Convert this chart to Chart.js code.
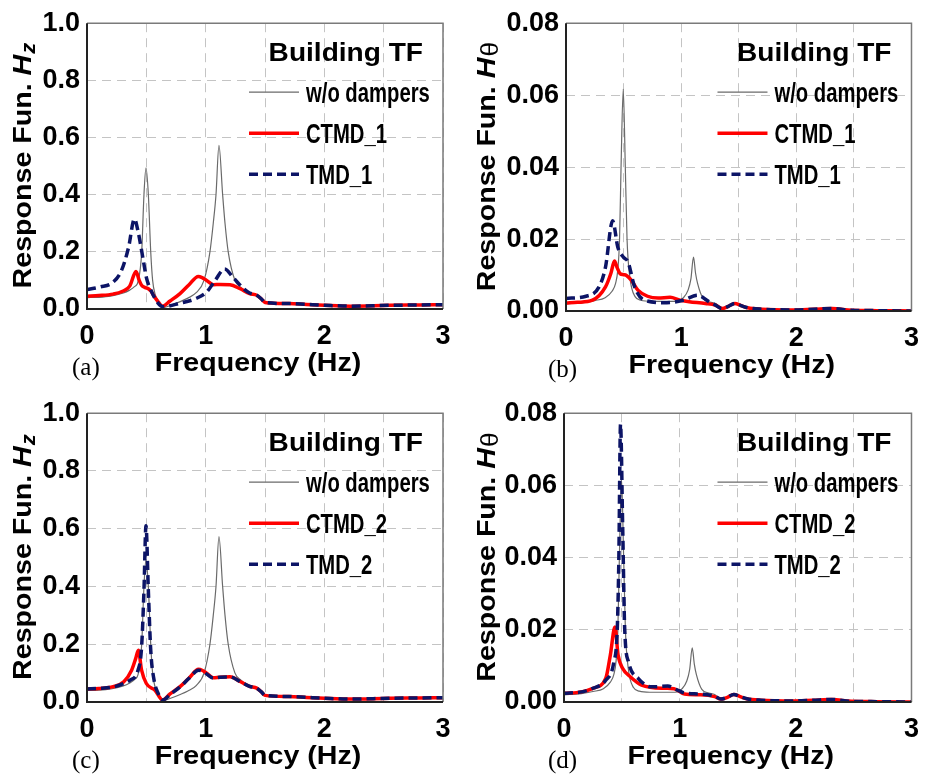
<!DOCTYPE html>
<html><head><meta charset="utf-8">
<script src="https://cdn.jsdelivr.net/npm/chart.js@4.4.1/dist/chart.umd.min.js"></script>
<style>
html,body{margin:0;padding:0;background:#fff;}
body{width:930px;height:778px;position:relative;overflow:hidden;}
.p{position:absolute;}
canvas{display:block;}
</style></head><body>
<div class="p" style="left:0;top:0;"><canvas id="ca" width="465" height="390"></canvas></div>
<div class="p" style="left:465px;top:0;"><canvas id="cb" width="465" height="390"></canvas></div>
<div class="p" style="left:0;top:390px;"><canvas id="cc" width="465" height="388"></canvas></div>
<div class="p" style="left:465px;top:390px;"><canvas id="cd" width="465" height="388"></canvas></div>
<script>
// ---------- tick values ----------
const xGridTicks = [0, 0.5, 1, 1.5, 2, 2.5, 3];
const xTickLabels = [0, 1, 2, 3];
const hzTicks = [0, 0.2, 0.4, 0.6, 0.8, 1.0];
const thTicks = [0, 0.02, 0.04, 0.06, 0.08];

// ---------- legend labels ----------
const labels1 = ['w/o dampers', 'CTMD_1', 'TMD_1'];
const labels2 = ['w/o dampers', 'CTMD_2', 'TMD_2'];

// ---------- Hz : vertical response ----------
const hzBareF = [0, 0.1, 0.2, 0.3, 0.36, 0.4, 0.433, 0.461, 0.48, 0.497, 0.517, 0.537, 0.553, 0.575, 0.6, 0.62, 0.64, 0.7, 0.78, 0.85, 0.92, 0.986, 1.036, 1.064, 1.087, 1.112, 1.143, 1.163, 1.19, 1.247, 1.3, 1.35, 1.42, 1.47, 1.5, 1.7, 2.0, 2.2, 2.5, 2.8, 3.0];
const hzBareV = [0.040, 0.041, 0.045, 0.055, 0.066, 0.078, 0.1, 0.2, 0.4, 0.494, 0.4, 0.2, 0.1, 0.05, 0.03, 0.012, 0.005, 0.012, 0.025, 0.038, 0.057, 0.1, 0.2, 0.3, 0.4, 0.573, 0.4, 0.3, 0.2, 0.1, 0.075, 0.06, 0.05, 0.037, 0.023, 0.019, 0.013, 0.010, 0.012, 0.014, 0.015];

const hzCtmd1F = [0, 0.1, 0.22, 0.3, 0.36, 0.413, 0.44, 0.46, 0.49, 0.517, 0.54, 0.56, 0.6, 0.637, 0.7, 0.784, 0.86, 0.938, 0.97, 1.008, 1.065, 1.12, 1.205, 1.29, 1.37, 1.43, 1.47, 1.5, 1.7, 1.85, 2.0, 2.22, 2.55, 2.8, 3.0];
const hzCtmd1V = [0.045, 0.047, 0.052, 0.062, 0.08, 0.131, 0.1, 0.083, 0.075, 0.071, 0.062, 0.048, 0.025, 0.01, 0.028, 0.054, 0.085, 0.114, 0.11, 0.1, 0.085, 0.086, 0.085, 0.071, 0.054, 0.048, 0.035, 0.023, 0.019, 0.016, 0.013, 0.010, 0.013, 0.014, 0.015];

const hzTmd1F = [0, 0.11, 0.22, 0.29, 0.35, 0.40, 0.43, 0.475, 0.50, 0.545, 0.60, 0.64, 0.78, 0.92, 1.01, 1.08, 1.16, 1.23, 1.32, 1.37, 1.43, 1.47, 1.5, 1.7, 1.85, 2.0, 2.22, 2.55, 2.8, 3.0];
const hzTmd1V = [0.068, 0.077, 0.094, 0.134, 0.215, 0.315, 0.272, 0.169, 0.111, 0.06, 0.02, 0.008, 0.02, 0.037, 0.06, 0.1, 0.14, 0.111, 0.071, 0.056, 0.048, 0.035, 0.023, 0.019, 0.016, 0.013, 0.010, 0.013, 0.014, 0.015];

const hzCtmd2F = [0, 0.1, 0.22, 0.31, 0.376, 0.41, 0.433, 0.46, 0.50, 0.573, 0.637, 0.7, 0.784, 0.86, 0.94, 0.97, 1.008, 1.065, 1.12, 1.205, 1.29, 1.37, 1.43, 1.47, 1.5, 1.7, 1.85, 2.0, 2.22, 2.55, 2.8, 3.0];
const hzCtmd2V = [0.045, 0.047, 0.053, 0.07, 0.11, 0.15, 0.179, 0.11, 0.064, 0.041, 0.007, 0.028, 0.053, 0.083, 0.113, 0.11, 0.1, 0.084, 0.086, 0.087, 0.071, 0.054, 0.048, 0.035, 0.023, 0.019, 0.016, 0.013, 0.010, 0.013, 0.014, 0.015];

const hzTmd2F = [0, 0.1, 0.22, 0.31, 0.36, 0.43, 0.46, 0.48, 0.497, 0.517, 0.537, 0.565, 0.60, 0.64, 0.7, 0.784, 0.86, 0.94, 0.97, 1.008, 1.065, 1.12, 1.205, 1.29, 1.37, 1.43, 1.47, 1.5, 1.7, 1.85, 2.0, 2.22, 2.55, 2.8, 3.0];
const hzTmd2V = [0.045, 0.047, 0.052, 0.064, 0.075, 0.11, 0.19, 0.386, 0.61, 0.386, 0.18, 0.076, 0.03, 0.007, 0.026, 0.052, 0.082, 0.11, 0.107, 0.097, 0.083, 0.086, 0.087, 0.071, 0.054, 0.048, 0.035, 0.023, 0.019, 0.016, 0.013, 0.010, 0.013, 0.014, 0.015];

// ---------- Htheta : torsional response ----------
const thBareF = [0, 0.15, 0.25, 0.34, 0.4, 0.43, 0.45, 0.465, 0.478, 0.497, 0.515, 0.53, 0.554, 0.6, 0.65, 0.74, 0.85, 0.96, 1.02, 1.06, 1.085, 1.107, 1.125, 1.143, 1.19, 1.25, 1.3, 1.354, 1.41, 1.466, 1.52, 1.578, 1.7, 1.97, 2.15, 2.31, 2.48, 2.7, 3.0];
const thBareV = [0.002, 0.0023, 0.0029, 0.0037, 0.0055, 0.0076, 0.0115, 0.02, 0.04, 0.0617, 0.04, 0.02, 0.0095, 0.004, 0.003, 0.0027, 0.0027, 0.0027, 0.0037, 0.0058, 0.009, 0.015, 0.0105, 0.0076, 0.0035, 0.0025, 0.0021, 0.0008, 0.0013, 0.0021, 0.0015, 0.0009, 0.0005, 0.0003, 0.0005, 0.0007, 0.0002, 0.0001, 0.0];

const thCtmd1F = [0, 0.1, 0.23, 0.343, 0.39, 0.421, 0.445, 0.469, 0.5, 0.525, 0.567, 0.624, 0.708, 0.8, 0.904, 0.99, 1.07, 1.21, 1.3, 1.354, 1.41, 1.466, 1.52, 1.578, 1.7, 1.97, 2.15, 2.31, 2.48, 2.7, 3.0];
const thCtmd1V = [0.0022, 0.0024, 0.003, 0.0067, 0.0105, 0.0139, 0.012, 0.0104, 0.0101, 0.0099, 0.0086, 0.0058, 0.0041, 0.0036, 0.0038, 0.003, 0.0026, 0.0021, 0.0016, 0.0007, 0.0013, 0.0021, 0.0015, 0.0009, 0.0005, 0.0003, 0.0005, 0.0007, 0.0002, 0.0001, 0.0];

const thTmd1F = [0, 0.174, 0.287, 0.343, 0.405, 0.45, 0.497, 0.539, 0.596, 0.68, 0.876, 1.017, 1.143, 1.24, 1.3, 1.354, 1.41, 1.466, 1.52, 1.578, 1.7, 1.97, 2.15, 2.31, 2.48, 2.7, 3.0];
const thTmd1V = [0.0035, 0.0041, 0.0067, 0.0122, 0.0251, 0.0177, 0.015, 0.0136, 0.0067, 0.003, 0.0023, 0.003, 0.0044, 0.0026, 0.0016, 0.0007, 0.0013, 0.0021, 0.0015, 0.0009, 0.0005, 0.0003, 0.0005, 0.0007, 0.0002, 0.0001, 0.0];

const thCtmd2F = [0, 0.15, 0.25, 0.36, 0.4, 0.44, 0.467, 0.507, 0.572, 0.67, 0.868, 0.95, 1.04, 1.18, 1.3, 1.354, 1.41, 1.466, 1.52, 1.578, 1.7, 1.97, 2.15, 2.31, 2.48, 2.7, 3.0];
const thCtmd2V = [0.0024, 0.0028, 0.0038, 0.0065, 0.013, 0.0208, 0.013, 0.0093, 0.007, 0.0047, 0.0038, 0.0037, 0.0022, 0.002, 0.0015, 0.0008, 0.0013, 0.0021, 0.0015, 0.0009, 0.0005, 0.0003, 0.0005, 0.0007, 0.0002, 0.0001, 0.0];

const thTmd2F = [0, 0.15, 0.25, 0.36, 0.43, 0.46, 0.473, 0.488, 0.507, 0.524, 0.558, 0.642, 0.755, 0.896, 0.98, 1.04, 1.18, 1.3, 1.354, 1.41, 1.466, 1.52, 1.578, 1.7, 1.97, 2.15, 2.31, 2.48, 2.7, 3.0];
const thTmd2V = [0.0024, 0.0028, 0.0038, 0.006, 0.011, 0.0203, 0.0387, 0.0769, 0.0479, 0.0203, 0.011, 0.0065, 0.0042, 0.0044, 0.0033, 0.0025, 0.0022, 0.0016, 0.0008, 0.0013, 0.0021, 0.0015, 0.0009, 0.0005, 0.0003, 0.0005, 0.0007, 0.0002, 0.0001, 0.0];

// ---------- drawing ----------
const SANS = "'Liberation Sans', Arial, sans-serif";
const SERIF = "'Liberation Serif', 'Times New Roman', serif";
const GRAY = '#6a6a6a', RED = '#ff0000', NAVY = '#0c1466';

function pts(F, V) { return F.map((f, i) => ({x: f, y: V[i]})); }

function stretchText(ctx, txt, x, y, font, sx, align, base) {
  ctx.save();
  ctx.translate(x, y);
  ctx.scale(sx, 1);
  ctx.font = font;
  ctx.textAlign = align || 'left';
  ctx.textBaseline = base || 'alphabetic';
  ctx.fillStyle = '#000';
  ctx.fillText(txt, 0, 0);
  ctx.restore();
}

const decor = {
  id: 'decor',
  afterDatasetsDraw(chart, args, o) {
    const {ctx, chartArea: {left, right, top, bottom}} = chart;
    ctx.save();
    ctx.setLineDash([]);
    ctx.strokeStyle = '#7a7a7a'; ctx.lineWidth = 1.5;
    ctx.beginPath(); ctx.moveTo(left, top); ctx.lineTo(right, top); ctx.lineTo(right, bottom); ctx.stroke();
    ctx.strokeStyle = '#222'; ctx.lineWidth = 2;
    ctx.beginPath(); ctx.moveTo(left, top); ctx.lineTo(left, bottom); ctx.lineTo(right, bottom); ctx.stroke();
    ctx.restore();
  },
  afterDraw(chart, args, o) {
    const {ctx, chartArea: {left, right, top, bottom}} = chart;
    // y axis title (rotated)
    ctx.save();
    ctx.translate(o.yTitleX, (top + bottom) / 2);
    ctx.rotate(-Math.PI / 2);
    ctx.scale(1.1, 1);
    const f1 = 'bold 26px ' + SANS, f2 = 'italic bold 26px ' + SANS, f3 = o.subFont;
    ctx.font = f1; const w1 = ctx.measureText('Response Fun. ').width;
    ctx.font = f2; const w2 = ctx.measureText('H').width;
    ctx.font = f3; const w3 = ctx.measureText(o.sub).width;
    let x0 = -(w1 + w2 + w3) / 2;
    ctx.fillStyle = '#000'; ctx.textBaseline = 'alphabetic';
    ctx.font = f1; ctx.fillText('Response Fun. ', x0, 0);
    ctx.font = f2; ctx.fillText('H', x0 + w1, 0);
    ctx.font = f3; ctx.fillText(o.sub, x0 + w1 + w2 + 1, o.subDy);
    ctx.restore();
    // x axis title
    stretchText(ctx, 'Frequency (Hz)', (left + right) / 2 - 7, bottom + 62, 'bold 26px ' + SANS, 1.1, 'center');
    // panel letter
    stretchText(ctx, o.letter, o.letterX, bottom + 59, '25px ' + SERIF, 1, 'left', 'middle');
    // legend
    stretchText(ctx, 'Building TF', right - 20, top + 38, 'bold 26px ' + SANS, 1.08, 'right');
    const ys = [69, 110, 151];
    chart.data.datasets.forEach((ds, i) => {
      const y = top + ys[i];
      ctx.save();
      ctx.strokeStyle = ds.borderColor; ctx.lineWidth = ds.borderWidth;
      ctx.setLineDash(ds.borderDash || []);
      ctx.beginPath(); ctx.moveTo(right - 194, y); ctx.lineTo(right - 144, y); ctx.stroke();
      ctx.restore();
      stretchText(ctx, ds.label, right - 137, y + 2, 'bold 27px ' + SANS, 0.75, 'left', 'middle');
    });
  }
};

function makeChart(id, sets, labels, yMax, yTicks, digits, lay) {
  const styles = [
    {borderColor: GRAY, borderWidth: 1.2, borderDash: [], order: 3},
    {borderColor: RED, borderWidth: 3.5, borderDash: [], order: 2},
    {borderColor: NAVY, borderWidth: 3.5, borderDash: [9, 5], order: 1}
  ];
  const datasets = sets.map((s, i) => Object.assign({
    label: labels[i], data: pts(s[0], s[1]), pointRadius: 0, fill: false,
    cubicInterpolationMode: 'monotone'
  }, styles[i]));
  return new Chart(document.getElementById(id), {
    type: 'line',
    data: {datasets},
    plugins: [decor],
    options: {
      responsive: false, animation: false, events: [],
      layout: {padding: {left: 0, top: lay.top, right: lay.right, bottom: 0}},
      plugins: {legend: {display: false}, tooltip: {enabled: false}, decor: lay.decor},
      scales: {
        x: {
          type: 'linear', min: 0, max: 3,
          afterBuildTicks: s => { s.ticks = xGridTicks.map(v => ({value: v})); },
          afterFit: s => { s.height = lay.xh; },
          ticks: {autoSkip: false, maxRotation: 0, padding: 11, color: '#000',
            font: {family: SANS, size: 27, weight: 'bold'},
            callback: v => xTickLabels.includes(v) ? String(v) : ''},
          grid: {color: '#c4c4c4', lineWidth: 1, drawTicks: false},
          border: {display: false, dash: [9, 6]}
        },
        y: {
          min: 0, max: yMax,
          afterBuildTicks: s => { s.ticks = yTicks.map(v => ({value: v})); },
          afterFit: s => { s.width = lay.yw; },
          ticks: {padding: 7, color: '#000',
            font: {family: SANS, size: 27, weight: 'bold'},
            callback: v => Number(v).toFixed(digits)},
          grid: {color: '#c4c4c4', lineWidth: 1, drawTicks: false},
          border: {display: false, dash: [9, 6]}
        }
      }
    }
  });
}

const subZ = {sub: 'z', subFont: 'italic bold 20px ' + SANS, subDy: 4};
const subT = {sub: '\u03B8', subFont: '24px ' + SANS, subDy: 3};

makeChart('ca', [[hzBareF, hzBareV], [hzCtmd1F, hzCtmd1V], [hzTmd1F, hzTmd1V]], labels1, 1.0, hzTicks, 1,
  {top: 19, right: 22, yw: 87, xh: 81, decor: Object.assign({letter: '(a)', letterX: 72, yTitleX: 31}, subZ)});
makeChart('cb', [[thBareF, thBareV], [thCtmd1F, thCtmd1V], [thTmd1F, thTmd1V]], labels1, 0.08, thTicks, 2,
  {top: 21, right: 8, yw: 101, xh: 79, decor: Object.assign({letter: '(b)', letterX: 83, yTitleX: 30}, subT)});
makeChart('cc', [[hzBareF, hzBareV], [hzCtmd2F, hzCtmd2V], [hzTmd2F, hzTmd2V]], labels2, 1.0, hzTicks, 1,
  {top: 22, right: 22, yw: 87, xh: 76, decor: Object.assign({letter: '(c)', letterX: 72, yTitleX: 31}, subZ)});
makeChart('cd', [[thBareF, thBareV], [thCtmd2F, thCtmd2V], [thTmd2F, thTmd2V]], labels2, 0.08, thTicks, 2,
  {top: 22, right: 11, yw: 99, xh: 76, decor: Object.assign({letter: '(d)', letterX: 83, yTitleX: 30}, subT)});
</script>
</body></html>
